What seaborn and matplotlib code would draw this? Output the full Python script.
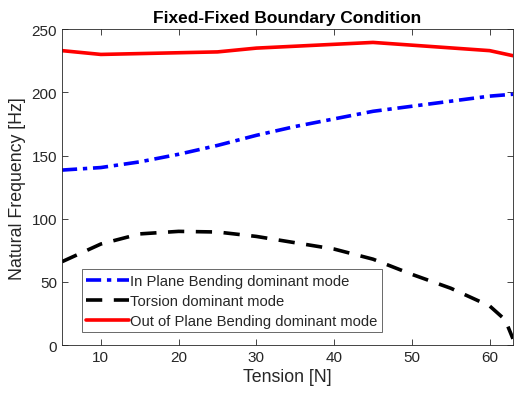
import matplotlib
matplotlib.use("Agg")
import matplotlib.pyplot as plt
import seaborn as sns
import pandas as pd

# Tension sweep [N] and natural frequencies [Hz] for each dominant mode
tension_in_plane = [5, 10, 15, 20, 25, 30, 35, 40, 45, 50, 55, 60, 63]
freq_in_plane = [138.5, 140.5, 145, 151, 158, 166, 173, 179, 185, 189, 193, 197, 198.5]

tension_torsion = [5, 10, 15, 20, 25, 30, 35, 40, 45, 50, 55, 60, 62, 63]
freq_torsion = [66, 80, 88, 90, 89.5, 86, 81, 76, 68, 56, 45, 31, 20, 5]

tension_out_plane = [5, 10, 25, 30, 45, 60, 63]
freq_out_plane = [233, 230, 232, 235, 239.5, 233, 229]

labels = ["In Plane Bending dominant mode",
          "Torsion dominant mode",
          "Out of Plane Bending dominant mode"]

sns.set_style("white")
plt.rcParams["font.family"] = ["Liberation Sans", "DejaVu Sans"]

fig = plt.figure(figsize=(5.14, 4.02), dpi=100)
ax = fig.add_axes([0.1206, 0.139, 0.8774, 0.786])

df_ip = pd.DataFrame({"T": tension_in_plane, "f": freq_in_plane})
df_to = pd.DataFrame({"T": tension_torsion, "f": freq_torsion})
df_op = pd.DataFrame({"T": tension_out_plane, "f": freq_out_plane})

sns.lineplot(data=df_ip, x="T", y="f", ax=ax, color="#0000FF", lw=2.6,
             linestyle=(0, (4.2, 1.6, 1.2, 1.6)), label=labels[0])
sns.lineplot(data=df_to, x="T", y="f", ax=ax, color="black", lw=2.6,
             linestyle=(0, (4.5, 3.2)), label=labels[1])
sns.lineplot(data=df_op, x="T", y="f", ax=ax, color="#FF0000", lw=2.6,
             linestyle="-", label=labels[2])

ax.set_xlim(5, 63)
ax.set_ylim(0, 250)
ax.set_xticks([10, 20, 30, 40, 50, 60])
ax.set_yticks([0, 50, 100, 150, 200, 250])

tick_col = "#262626"
ax.tick_params(axis="both", which="both", direction="in", length=4,
               width=0.6, colors=tick_col, labelsize=11,
               top=True, right=True, bottom=True, left=True)
for s in ax.spines.values():
    s.set_color("#262626")
    s.set_linewidth(0.6)

ax.set_xlabel("Tension [N]", fontsize=12.8, color=tick_col, labelpad=3)
ax.set_ylabel("Natural Frequency [Hz]", fontsize=12.8, color=tick_col)
ax.set_title("Fixed-Fixed Boundary Condition", fontsize=12.5,
             fontweight="bold", color="black", pad=5)

leg = ax.legend(loc="lower left", bbox_to_anchor=(0.044, 0.04),
                fontsize=10.6, frameon=True, fancybox=False,
                handlelength=2.9, handletextpad=0.1, borderpad=0.3,
                labelspacing=0.42, borderaxespad=0)
leg.get_frame().set_edgecolor("#262626")
leg.get_frame().set_linewidth(0.6)

fig.savefig("out.png", dpi=100)
